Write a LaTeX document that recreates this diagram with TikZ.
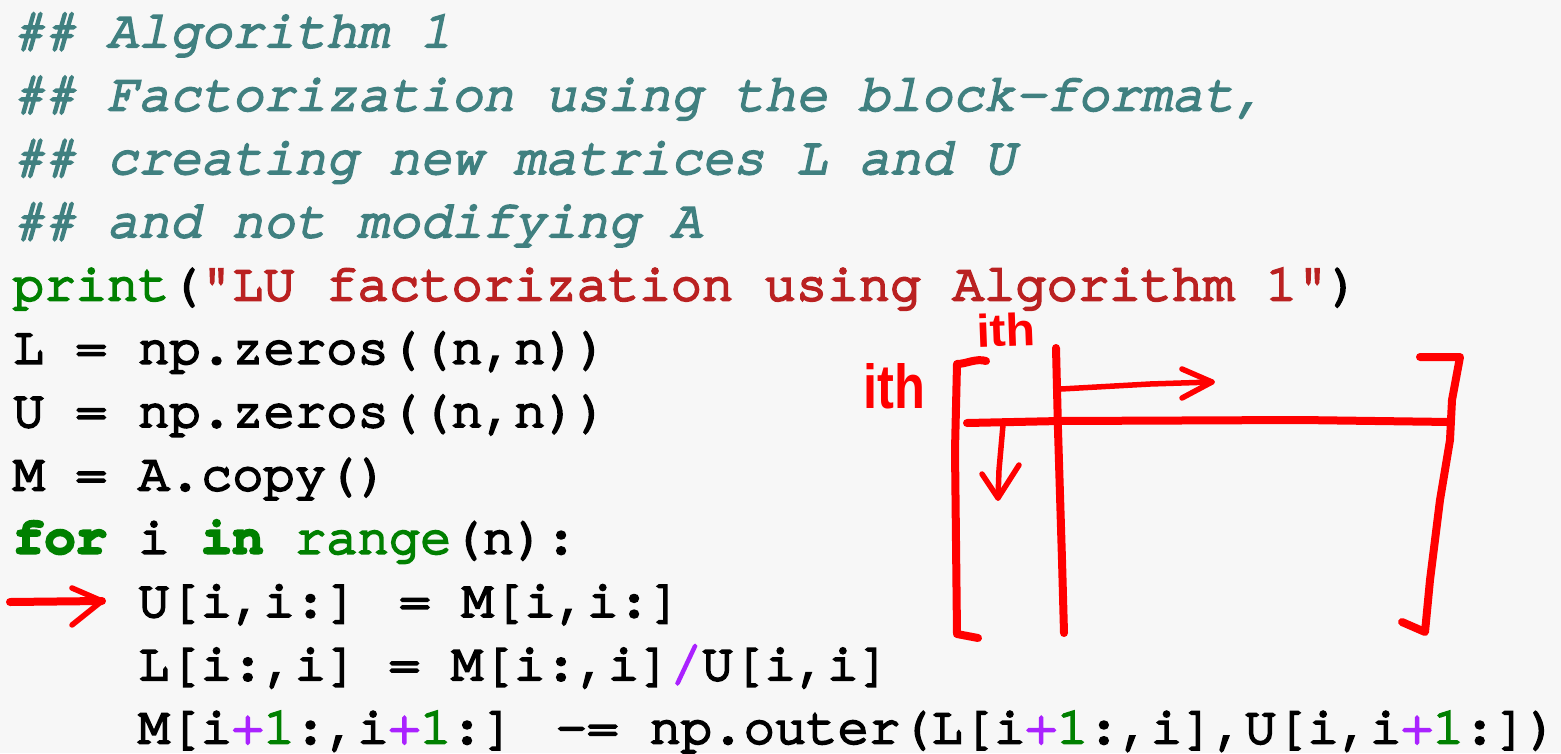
\documentclass[tikz,border=0pt]{standalone}
\usepackage{fontspec}
\newfontfamily\cf{texgyrecursor}[Extension=.otf, UprightFont=*-regular, BoldFont=*-bold, ItalicFont=*-italic, BoldItalicFont=*-bolditalic, FakeBold=4.5]
\newfontfamily\hand{Liberation Sans}
\definecolor{bg}{HTML}{F7F7F7}
\definecolor{ccmt}{HTML}{408080}
\definecolor{cstr}{HTML}{BA2121}
\definecolor{cgrn}{HTML}{008000}
\definecolor{cop}{HTML}{AA22FF}
\definecolor{ink}{HTML}{FF0000}
\newcommand\Ccmt[1]{{\itshape\color{ccmt}#1}}
\newcommand\Cstr[1]{{\color{cstr}#1}}
\newcommand\Ckw[1]{{\bfseries\color{cgrn}#1}}
\newcommand\Cbi[1]{{\color{cgrn}#1}}
\newcommand\Cop[1]{{\color{cop}#1}}
\newcommand\Cnum[1]{{\color{cgrn}#1}}
\tikzset{
  codeline/.style={anchor=base west, inner sep=0pt, outer sep=0pt, font=\cf\fontsize{52.2}{63}\selectfont},
  thick ink/.style={draw=ink, line width=8pt, line cap=round, line join=round},
  thin ink/.style={draw=ink, line width=5.5pt, line cap=round, line join=round},
  handtext/.style={text=ink, inner sep=0pt, font=\hand\bfseries\fontsize{46}{46}\selectfont}
}
\begin{document}
\begin{tikzpicture}[x=1pt,y=-1pt]
\fill[bg] (0,0) rectangle (1561,753);
\useasboundingbox (0,0) rectangle (1561,753);
% code lines
\node[codeline] (l1) at (13,47) {\Ccmt{\#\# Algorithm 1}};
\node[codeline] (l2) at (13,110.3) {\Ccmt{\#\# Factorization using the block-format,}};
\node[codeline] (l3) at (13,173.6) {\Ccmt{\#\# creating new matrices L and U}};
\node[codeline] (l4) at (13,236.9) {\Ccmt{\#\# and not modifying A}};
\node[codeline] (l5) at (13,300.2) {\Cbi{print}(\Cstr{"LU factorization using Algorithm 1"})};
\node[codeline] (l6) at (13,363.5) {L = np.zeros((n,n))};
\node[codeline] (l7) at (13,426.8) {U = np.zeros((n,n))};
\node[codeline] (l8) at (13,490.1) {M = A.copy()};
\node[codeline] (l9) at (13,553.4) {\Ckw{for} i \Ckw{in} \Cbi{range}(n):};
\node[codeline] (l10) at (138.2,616.7) {U[i,i:] = M[i,i:]};
\node[codeline] (l11) at (138.2,680) {L[i:,i] = M[i:,i]\Cop{/}U[i,i]};
\node[codeline] (l12) at (138.2,743.3) {M[i\Cop{+}\Cnum{1}:,i\Cop{+}\Cnum{1}:] -= np.outer(L[i\Cop{+}\Cnum{1}:,i],U[i,i\Cop{+}\Cnum{1}:])};
% handwritten labels
\node[handtext, xscale=1.05, yscale=1.0, rotate=2] (ithtop) at (1006,330) {ith};
\node[handtext, xscale=1.1, yscale=1.35] (ithleft) at (894,386) {ith};
% matrix sketch
\draw[thick ink] (986,361) .. controls (976,358) and (966,364) .. (957,364) -- (955,450) -- (957,634) -- (978,638);
\draw[thick ink] (1056,348) -- (1058,430) -- (1062,560) -- (1064,633);
\draw[thick ink] (967,423) -- (1060,421) -- (1300,420) -- (1451,422);
\draw[thick ink] (1420,357) -- (1460,357) -- (1452,400) -- (1450,440) -- (1440,500) -- (1430,580) -- (1425,632) -- (1402,622);
\draw[thin ink] (1061,389) -- (1150,384) -- (1212,382);
\draw[thin ink] (1182,369) -- (1212,382) -- (1182,398);
\draw[thin ink] (1003,425) -- (999,470) -- (998,498);
\draw[thin ink] (982,474) -- (998,498) -- (1019,465);
% arrow to the line
\coordinate (arrtail) at (10,602);
\coordinate (arrtip) at (102,601);
\draw[thick ink] (arrtail) -- (arrtip);
\draw[thin ink] (72,588) -- (arrtip) -- (72,625);
\end{tikzpicture}
\end{document}
